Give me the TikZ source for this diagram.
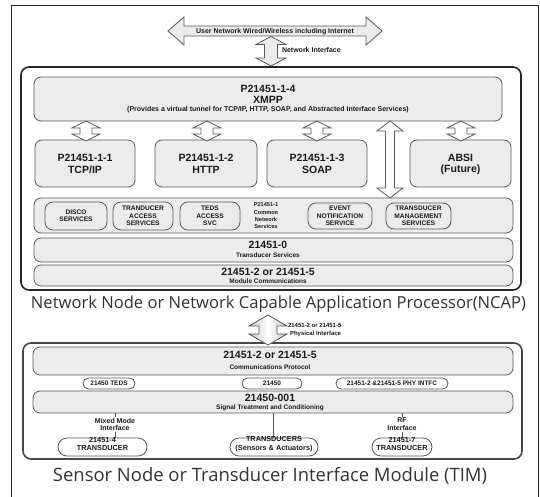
\documentclass[tikz,border=0pt]{standalone}
\usepackage{fontspec}
\setmainfont{Liberation Sans}
\newfontfamily\capfont{Open Sans}
\usetikzlibrary{shapes.misc}
\definecolor{boxfill}{HTML}{ECECEC}
\definecolor{boxline}{HTML}{5A5A5A}
\definecolor{frameline}{HTML}{262626}
\definecolor{txt}{HTML}{1A1A1A}
\definecolor{captxt}{HTML}{333333}
% rounded box node: [style]{name}{x1}{y1}{x2}{y2}{text}
\newcommand\rbox[7][]{\node[#1, anchor=north west, minimum width={#5pt-#3pt}, minimum height={#6pt-#4pt}] (#2) at (#3,#4) {#7};}
% vertical double block arrow: [style]{cx}{ytop}{ybot}{head half}{shaft half}{head length}
\newcommand\vdarrow[7][]{\draw[#1] (#2,#3) -- ({#2+#5},{#3+#7}) -- ({#2+#6},{#3+#7}) -- ({#2+#6},{#4-#7}) -- ({#2+#5},{#4-#7}) -- (#2,#4) -- ({#2-#5},{#4-#7}) -- ({#2-#6},{#4-#7}) -- ({#2-#6},{#3+#7}) -- ({#2-#5},{#3+#7}) -- cycle;}
% horizontal double block arrow: [style]{xl}{xr}{cy}{head half}{shaft half}{head length}
\newcommand\hdarrow[7][]{\draw[#1] (#2,#4) -- ({#2+#7},{#4-#5}) -- ({#2+#7},{#4-#6}) -- ({#3-#7},{#4-#6}) -- ({#3-#7},{#4-#5}) -- (#3,#4) -- ({#3-#7},{#4+#5}) -- ({#3-#7},{#4+#6}) -- ({#2+#7},{#4+#6}) -- ({#2+#7},{#4+#5}) -- cycle;}
\begin{document}
\begin{tikzpicture}[x=1pt,y=-1pt,
  every node/.style={inner sep=0pt, outer sep=0pt},
  panel/.style={draw=frameline, line width=1.6pt, rounded corners=8pt},
  gbox/.style={draw=boxline, fill=boxfill, line width=0.8pt, rounded corners=7pt},
  svc/.style={draw=boxline, fill=boxfill, line width=0.8pt, rounded corners=8pt, align=center, font=\fontsize{6.6}{7.3}\selectfont\bfseries, text=txt},
  pill/.style={rounded rectangle, draw=boxline, fill=white, line width=0.8pt, align=center, font=\fontsize{6.5}{7}\selectfont\bfseries, text=txt},
  pilltxt/.style={align=center, font=\fontsize{7.3}{8.8}\selectfont\bfseries, text=txt},
  ttl/.style={font=\fontsize{10.5}{12}\selectfont\bfseries, text=txt},
  sml/.style={font=\fontsize{6.5}{7.5}\selectfont\bfseries, text=txt, align=center},
  tiny/.style={font=\fontsize{7}{8}\selectfont\bfseries, text=txt, align=center},
  bigarrow/.style={draw=boxline, fill=boxfill, line width=0.8pt},
  sarrow/.style={draw=boxline, fill=white, line width=0.8pt},
  tarrow/.style={draw=boxline, line width=0.8pt, left color=gray!45, right color=gray!45, middle color=white},
  conn/.style={draw=gray!70!black, line width=0.7pt},
  lbl/.style={font=\fontsize{7}{7.8}\selectfont\bfseries, text=txt, align=center, fill=white, inner sep=0.8pt},
  captext/.style={font=\capfont\fontsize{15}{18}\selectfont, text=captxt},
]
\useasboundingbox (0,0) rectangle (540,497);
\fill[white] (0,0) rectangle (540,497);
% outer frame
\draw[frameline, line width=0.9pt] (11,497) -- (11,5) -- (538,5) -- (538,497);

% user network arrow
\hdarrow[bigarrow]{168}{382}{31}{14}{5}{16}
\node[tiny] (usernet) at (275,31.5) {User Network Wired/Wireless including Internet};
\vdarrow[bigarrow]{271}{36.5}{66}{15}{6.5}{8}
\node[tiny, anchor=west] (netif) at (282,50) {Network Interface};

% NCAP
\rbox[panel]{ncap}{21}{67}{521}{290}{}
\rbox[gbox]{xmpp}{34}{77}{502}{121}{}
\node[ttl] (xmppa) at (268,88.5) {P21451-1-4};
\node[ttl] (xmppb) at (268,99.5) {XMPP};
\node[tiny] (xmppc) at (268,109.5) {(Provides a virtual tunnel for TCP/IP, HTTP, SOAP, and Abstracted Interface Services)};

\rbox[gbox]{tcp}{35}{140}{135}{187}{}
\node[ttl] at (85,157.5) {P21451-1-1};
\node[ttl] at (85,170) {TCP/IP};
\rbox[gbox]{http}{155}{140}{257}{187}{}
\node[ttl] at (206,157.5) {P21451-1-2};
\node[ttl] at (206,170) {HTTP};
\rbox[gbox]{soap}{267}{140}{367}{187}{}
\node[ttl] at (317,157.5) {P21451-1-3};
\node[ttl] at (317,170) {SOAP};
\rbox[gbox]{absi}{410}{140}{511}{187}{}
\node[ttl] at (460.5,157.5) {ABSI};
\node[ttl] at (460.5,170) {(Future)};

\rbox[gbox]{cns}{34}{198}{513}{233}{}
\rbox[svc]{disco}{45}{202}{107}{230}{DISCO\\SERVICES}
\rbox[svc]{tacc}{113}{202}{173}{230}{TRANDUCER\\ACCESS\\SERVICES}
\rbox[svc]{teds}{180}{202}{240}{230}{TEDS\\ACCESS\\SVC}
\node[sml, font=\fontsize{5.6}{7.3}\selectfont\bfseries] (cnstxt) at (266,216) {P21451-1\\Common\\Network\\Services};
\rbox[svc]{event}{308}{203}{372}{229}{EVENT\\NOTIFICATION\\SERVICE}
\rbox[svc]{tmgmt}{386}{203}{451}{229}{TRANSDUCER\\MANAGEMENT\\SERVICES}

\rbox[gbox]{tsvc}{34}{238}{513}{262}{}
\node[ttl] at (268,245) {21451-0};
\node[sml] at (268,255.5) {Transducer Services};
\rbox[gbox]{modc}{34}{265}{513}{286}{}
\node[ttl] at (268,271.5) {21451-2 or 21451-5};
\node[sml] at (268,281.5) {Module Communications};

% arrows between XMPP and the protocol boxes
\vdarrow[sarrow]{86}{121}{141}{14}{6}{7}
\vdarrow[sarrow]{207}{121}{141}{14}{6}{7}
\vdarrow[sarrow]{317}{121}{141}{14}{6}{7}
\vdarrow[sarrow]{461}{121}{141}{14}{6}{7}
\vdarrow[sarrow]{390}{121}{198}{13}{4.5}{10}

\node[captext] (ncapcap) at (278.5,304) {\resizebox{495pt}{!}{Network Node or Network Capable Application Processor(NCAP)}};

% TIM
\rbox[panel, draw=frameline!85]{tim}{23}{343}{522}{459}{}
\rbox[gbox]{cprot}{33}{347}{513}{375}{}
\node[ttl] at (270,354.5) {21451-2 or 21451-5};
\node[sml] at (270,367) {Communications Protocol};
\node[pill, minimum width=52pt, minimum height=11pt] (tedsp) at (109,383.5) {21450 TEDS};
\node[pill, minimum width=60pt, minimum height=11pt] (p21450) at (272,383.5) {21450};
\node[pill, minimum width=112pt, minimum height=11pt] (phyp) at (392,383.5) {21451-2 \&21451-5 PHY INTFC};
\rbox[gbox]{sig}{33}{391}{513}{413}{}
\node[ttl] at (270,397.5) {21450-001};
\node[sml] at (270,407.5) {Signal Treatment and Conditioning};

\node[pill, minimum width=89pt, minimum height=18pt] (t4) at (102.5,447) {};
\node[pill, minimum width=88pt, minimum height=18pt] (tsa) at (274,447) {};
\node[pill, minimum width=60pt, minimum height=18pt] (t7) at (402,447) {};

\coordinate (mmx) at (115,420);
\coordinate (tsx) at (273,420);
\draw[conn] (sig.south -| mmx) -- (mmx |- t4.north);
\draw[conn] (sig.south -| tsx) -- (tsx |- tsa.north);
\draw[conn] (sig.south -| t7) -- (t7.north);
\node[lbl] (mmlbl) at (115,424.5) {Mixed Mode\\Interface};
\node[lbl] (rflbl) at (402,424.5) {RF\\Interface};

\node[pilltxt] (t4txt) at (102.5,444) {21451-4\\TRANSDUCER};
\node[pilltxt] (tsatxt) at (274,444) {TRANSDUCERS\\(Sensors \& Actuators)};
\node[pilltxt] (t7txt) at (402,444) {21451-7\\TRANSDUCER};

% physical interface arrow
\vdarrow[tarrow]{268}{315}{345}{19}{9}{11}
\node[sml, font=\fontsize{6}{7.5}\selectfont\bfseries, anchor=west, align=left] (phylbl) at (288,330) {21451-2 or 21451-5\\\hspace*{2pt}Physical Interface};

\node[captext] (timcap) at (270,476) {\resizebox{434pt}{!}{Sensor Node or Transducer Interface Module (TIM)}};
\end{tikzpicture}
\end{document}
